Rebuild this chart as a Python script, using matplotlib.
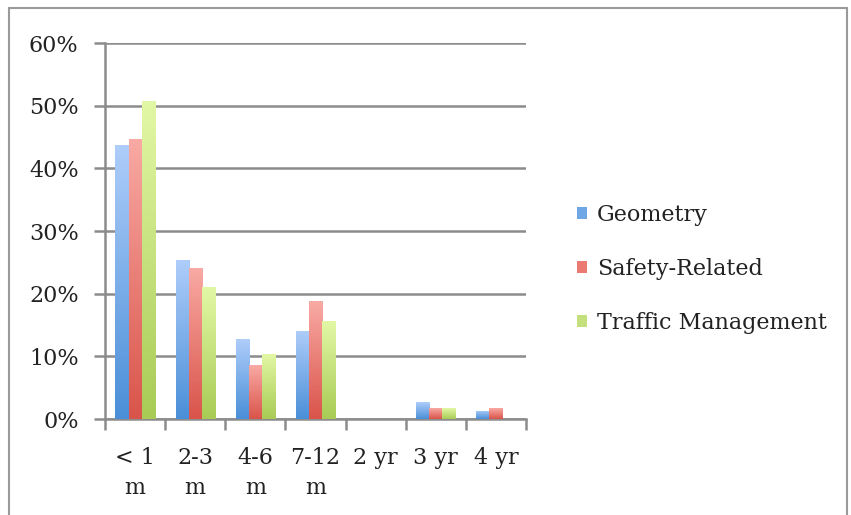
import numpy as np
import matplotlib
matplotlib.use("Agg")
import matplotlib.pyplot as plt
from matplotlib.colors import LinearSegmentedColormap
from matplotlib.patches import Rectangle

categories = ["< 1\nm", "2-3\nm", "4-6\nm", "7-12\nm", "2 yr", "3 yr", "4 yr"]
series_names = ["Geometry", "Safety-Related", "Traffic Management"]
geometry = [43.7, 25.3, 12.7, 14.1, 0.0, 2.7, 1.3]
safety = [44.7, 24.1, 8.6, 18.8, 0.0, 1.7, 1.7]
traffic = [50.8, 21.0, 10.4, 15.7, 0.0, 1.7, 0.0]
yticks = [0, 10, 20, 30, 40, 50, 60]

series = [geometry, safety, traffic]
top_colors = ["#aecdfa", "#f9aaa4", "#e3f8a6"]
bot_colors = ["#4a8fd8", "#d9544a", "#a8cb55"]
mid_colors = ["#6fa6e6", "#ea7a72", "#c4e07c"]

FS = 16
plt.rcParams['font.family'] = ['DejaVu Serif']
fig = plt.figure(figsize=(8.51, 5.15), dpi=100)
W, H = 851, 515
ax = fig.add_axes([105 / W, 1 - 419 / H, (526 - 105) / W, (419 - 43) / H])

# chart border
fig.patches.append(Rectangle((9 / W, -0.01), (847 - 9) / W, 1 - 8 / H + 0.01,
                             transform=fig.transFigure, fill=False,
                             edgecolor="#9a9a9a", linewidth=1.5, zorder=0))

x = np.arange(len(categories))
bw = 0.218
offsets = [-bw, 0, bw]
for vals, off, tc, bc, mc, name in zip(series, offsets, top_colors, bot_colors, mid_colors, series_names):
    bars = ax.bar(x + off, vals, width=bw, color=mc, edgecolor="none", zorder=3, label=name)
    cmap = LinearSegmentedColormap.from_list("g", [bc, tc])
    grad = np.linspace(0, 1, 256).reshape(-1, 1)
    for b in bars:
        h = b.get_height()
        if h <= 0:
            continue
        bx = b.get_x()
        im = ax.imshow(grad, cmap=cmap, aspect="auto", origin="lower",
                       extent=[bx, bx + bw, 0, h], zorder=4)
        im.set_clip_path(b)

ax.set_xlim(-0.5, len(categories) - 0.5)
ax.set_ylim(0, 60)
ax.set_yticks(yticks)
ax.set_yticklabels([f"{v}%" for v in yticks], fontsize=FS, color="#222222")
ax.yaxis.grid(True, color="#8c8c8c", linewidth=1.8, zorder=1)
ax.set_axisbelow(True)

ax.set_xticks(np.arange(len(categories) + 1) - 0.5)
ax.set_xticklabels([])
ax.set_xticks(x, minor=True)
ax.set_xticklabels(categories, minor=True, fontsize=FS, color="#222222", linespacing=1.5, va="top")
ax.tick_params(axis="x", which="minor", length=0, pad=20)
ax.tick_params(axis="x", which="major", length=8, width=1.8, color="#8c8c8c")
ax.tick_params(axis="y", length=8, width=1.8, color="#8c8c8c", pad=11)

for s in ["top", "right"]:
    ax.spines[s].set_visible(False)
for s in ["left", "bottom"]:
    ax.spines[s].set_color("#8c8c8c")
    ax.spines[s].set_linewidth(1.8)

leg = ax.legend(loc="center left", bbox_to_anchor=(557 / W, 1 - 269 / H), bbox_transform=fig.transFigure,
                frameon=False, fontsize=FS, handlelength=0.45, handleheight=0.45,
                handletextpad=0.45, labelspacing=1.44)
for t in leg.get_texts():
    t.set_color("#222222")

fig.savefig("out.png", dpi=100)
